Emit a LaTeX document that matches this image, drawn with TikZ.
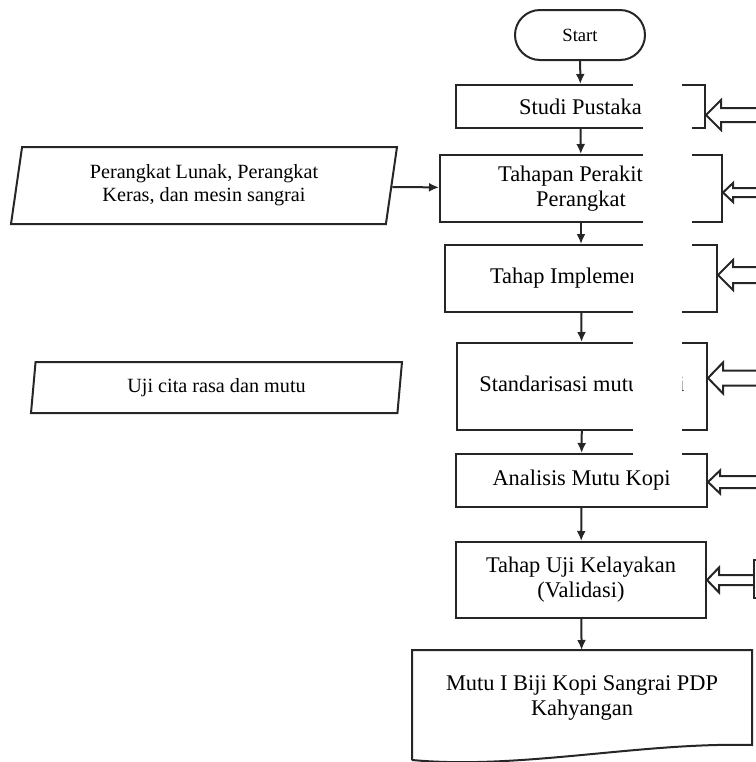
\documentclass[tikz,border=0pt]{standalone}
\usepackage{fontspec}
\setmainfont{Liberation Serif}
\usetikzlibrary{shapes.geometric,calc,arrows.meta}
\tikzset{>={Latex[length=5pt,width=4.5pt]}}
% hollow block arrow: #1 box, #2 free end, #3 half shaft, #4 half head, #5 head length
\newcommand{\inarrow}[5]{%
  \coordinate (t#2) at (#1.east |- #2);
  \draw [hollow] ($(#2)+(0,-#3)$) -- ($(t#2)+(#5,-#3)$) -- ($(t#2)+(#5,-#4)$) -- (t#2)
    -- ($(t#2)+(#5,#4)$) -- ($(t#2)+(#5,#3)$) -- ($(#2)+(0,#3)$);}

\begin{document}
\begin{tikzpicture}[x=0.5pt,y=-0.5pt,
    box/.style={rectangle,draw=black!85,line width=1pt,inner sep=0pt,align=center,
        font=\fontsize{11.2}{12.5}\selectfont},
    data/.style={trapezium,trapezium stretches body,trapezium left angle=75,
        trapezium right angle=105,font=\fontsize{10.1}{11.5}\selectfont},
    hollow/.style={draw=black!85,line width=1pt}]
\useasboundingbox (0,0) rectangle (756,762);
\begin{scope}[every node/.style={box}]
\node (St) [rounded corners=12.5pt,minimum width=65pt,minimum height=25pt,
    font=\fontsize{9.3}{11}\selectfont] at (580,35) {Start};
\node (SP) [minimum width=124.5pt,minimum height=21.5pt] at (580.5,106.5) {Studi Pustaka};
\node (TP) [minimum width=141pt,minimum height=33.5pt] at (581,188.5) {Tahapan Perakitan\\Perangkat};
\node (TI) [minimum width=136pt,minimum height=33.5pt] at (581,278.5) {Tahap Implementasi};
\node (SM) [minimum width=125pt,minimum height=43.5pt] at (582,386.5) {Standarisasi mutu kopi};
\node (AM) [minimum width=125.5pt,minimum height=26.5pt] at (581.5,480.5) {Analisis Mutu Kopi};
\node (UK) [minimum width=125pt,minimum height=38pt] at (581,580) {Tahap Uji Kelayakan\\(Validasi)};
\node (MB) [draw=none,minimum width=169pt,minimum height=46.5pt] at (582,697.5) {Mutu I Biji Kopi Sangrai PDP\\Kahyangan};
\node (PL) [data,minimum width=193pt,minimum height=38.5pt] at (204,185.5) {Perangkat Lunak, Perangkat\\Keras, dan mesin sangrai};
\node (UC) [data,trapezium left angle=76,trapezium right angle=104,
    minimum width=185.5pt,minimum height=25.5pt] at (216.5,387.5) {Uji cita rasa dan mutu};
\end{scope}
%document shape
\draw [hollow] ($(MB.south west)+(0,15)$) -- (MB.north west) -- (MB.north east) -- (MB.south east)
    .. controls (640,742) and (520,770) .. ($(MB.south west)+(0,15)$);

\begin{scope}[every edge/.style={draw=black!85,line width=1pt}]
    \path [->] (St) edge (SP);
    \path [->] (SP) edge (TP);
    \path [->] (TP) edge (TI);
    \path [->] (TI) edge (SM);
    \path [->] (SM) edge (AM);
    \path [->] (AM) edge (UK);
    \path [->] (UK) edge (MB);
    \path [->] (PL) edge (TP);
\end{scope}

\coordinate (e1) at (760,115);
\coordinate (e2) at (760,192.5);
\coordinate (e3) at (760,275);
\coordinate (e4) at (760,378);
\coordinate (e5) at (760,482);
\coordinate (e6) at (754,580);
\inarrow{SP}{e1}{7}{15}{15}
\inarrow{TP}{e2}{4.5}{9.5}{10}
\inarrow{TI}{e3}{8}{15}{15}
\inarrow{SM}{e4}{7.5}{15.5}{15}
\inarrow{AM}{e5}{6}{11.5}{12}
\inarrow{UK}{e6}{5}{12.5}{12}
\draw [hollow] (760,560) -| (754,598) -- (760,598);

%white strips
\fill [white] (633,82) rectangle (682,93);
\fill [white] (643,93) rectangle (692,258);
\fill [white] (633,258) rectangle (682,467);
\end{tikzpicture}
\end{document}
